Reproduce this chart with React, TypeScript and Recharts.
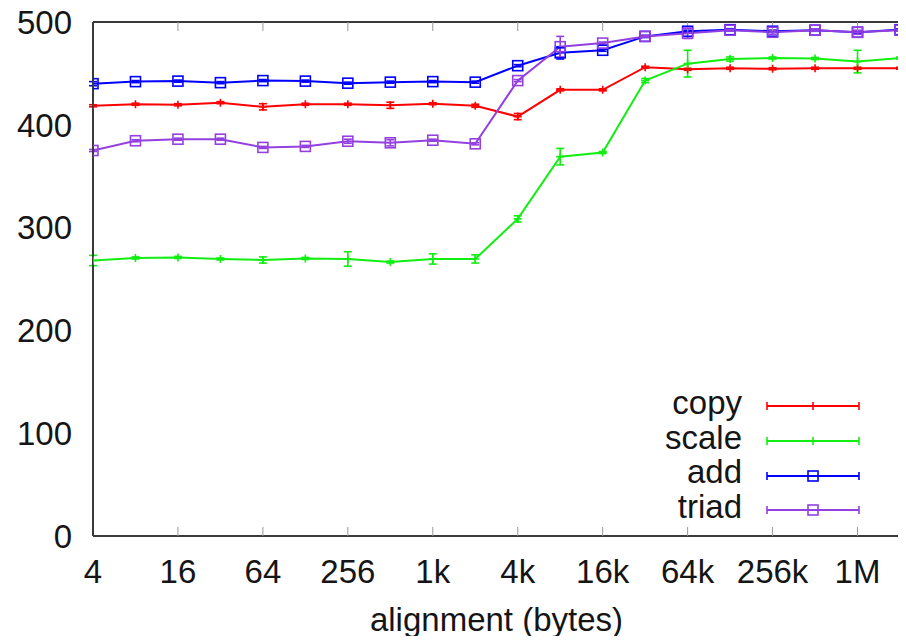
import React from 'react';
import { LineChart, Line, XAxis, YAxis, ErrorBar } from 'recharts';

// alignment in bytes, one point per power of two
const alignments = [4, 8, 16, 32, 64, 128, 256, 512, 1024, 2048, 4096, 8192, 16384, 32768, 65536, 131072, 262144, 524288, 1048576, 2097152];
const xTicks = [4, 16, 64, 256, 1024, 4096, 16384, 65536, 262144, 1048576];
const xTickLabels = ['4', '16', '64', '256', '1k', '4k', '16k', '64k', '256k', '1M'];
const yTicks = [0, 100, 200, 300, 400, 500];

const copyValues = [418.5, 420, 419.5, 421.5, 417.5, 420, 420, 419, 420.5, 418.5, 408, 434, 434, 456, 454, 455, 454.5, 455, 455, 455];
const copyErrors = [1, 1, 1, 1, 3, 1, 1, 3, 1, 1.5, 3, 1, 1, 1, 1, 1, 1, 1, 1, 1];
const scaleValues = [268, 270.5, 271, 269.5, 268.5, 270, 269.5, 266.5, 269.5, 269.5, 308.5, 369, 373, 443, 459.5, 464, 465, 464.5, 461.5, 465];
const scaleErrors = [5, 1, 1, 1, 3, 1, 7, 1, 5, 4, 3, 8, 1, 2, 13, 2, 1, 1, 11, 1];
const addValues = [440, 442, 442.5, 441, 443, 442.5, 440.5, 441.5, 442, 441.5, 457.5, 470, 472.5, 486, 491, 492.5, 491, 492, 490, 492.5];
const addErrors = [2, 1, 1, 1, 1, 1, 1, 1, 1, 1, 1, 6, 1, 1, 1, 1, 1, 1, 1, 1];
const triadValues = [375, 384.5, 386, 386, 378, 379, 384, 382.5, 385, 381.5, 443, 476, 479.5, 486, 489, 492, 490, 492, 490, 492];
const triadErrors = [1, 1, 1, 1, 1, 1, 2, 3, 1, 1, 1, 10, 1, 1, 5, 1, 2, 1, 2, 1];

const seriesNames = ['copy', 'scale', 'add', 'triad'];
const seriesColors = ['#ff0000', '#11ee11', '#0000ff', '#9440e0'];
const seriesMarkers = ['plus', 'plus', 'square', 'square'];

const data = alignments.map((bytes, i) => ({
  bytes,
  copy: copyValues[i],
  copyErr: copyErrors[i],
  scale: scaleValues[i],
  scaleErr: scaleErrors[i],
  add: addValues[i],
  addErr: addErrors[i],
  triad: triadValues[i],
  triadErr: triadErrors[i],
}));

const FONT = '"Liberation Sans", Arial, Helvetica, sans-serif';
const TEXT = '#151515';
const FONT_SIZE = 33;
const xDomain = [alignments[0], alignments[alignments.length - 1]];

const makeDot = (kind: string, color: string) => (props: any) => {
  const { cx, cy, index } = props;
  if (cx == null || cy == null) return <g key={index} />;
  if (kind === 'square') {
    return <rect key={index} x={cx - 5} y={cy - 5} width={10} height={10} fill="none" stroke={color} strokeWidth={1.6} />;
  }
  return <path key={index} d={`M${cx - 4},${cy}H${cx + 4}M${cx},${cy - 4}V${cy + 4}`} stroke={color} strokeWidth={1.6} fill="none" />;
};

const formatX = (v: number) => {
  const i = xTicks.indexOf(v);
  return i >= 0 ? xTickLabels[i] : '';
};

const LegendSample: React.FC<{ color: string; marker: string }> = ({ color, marker }) => (
  <svg width={96} height={20} style={{ display: 'block' }}>
    <line x1={2} y1={10} x2={94} y2={10} stroke={color} strokeWidth={2} />
    <line x1={2} y1={6} x2={2} y2={14} stroke={color} strokeWidth={1.6} />
    <line x1={94} y1={6} x2={94} y2={14} stroke={color} strokeWidth={1.6} />
    {marker === 'square' ? (
      <rect x={43} y={5} width={10} height={10} fill="none" stroke={color} strokeWidth={1.6} />
    ) : (
      <line x1={48} y1={6} x2={48} y2={14} stroke={color} strokeWidth={1.6} />
    )}
  </svg>
);

const frameAxis = { stroke: '#3a3a3a', strokeWidth: 2 };
const innerTick = { stroke: '#999', strokeWidth: 1 };

export default function App() {
  return (
    <div style={{ position: 'relative', width: 906, height: 644, margin: -8, fontFamily: FONT }}>
      <LineChart width={906} height={644} data={data} margin={{ top: 22, right: 6, bottom: 8, left: 13 }}>
        <XAxis
          xAxisId="x"
          dataKey="bytes"
          type="number"
          scale="log"
          domain={xDomain}
          allowDataOverflow
          ticks={xTicks}
          interval={0}
          tickFormatter={formatX}
          axisLine={false}
          tickLine={false}
          tickSize={8}
          tickMargin={16}
          height={100}
          tick={{ fontSize: FONT_SIZE, fill: TEXT, fontFamily: FONT }}
          label={{ value: 'alignment (bytes)', position: 'insideBottom', offset: 5, fontSize: FONT_SIZE, fill: TEXT, fontFamily: FONT }}
        />
        <XAxis xAxisId="xb" dataKey="bytes" type="number" scale="log" domain={xDomain} allowDataOverflow ticks={xTicks} interval={0}
          tickFormatter={() => ''} orientation="bottom" mirror axisLine={frameAxis} tickLine={innerTick} tickSize={9} />
        <XAxis xAxisId="xt" dataKey="bytes" type="number" scale="log" domain={xDomain} allowDataOverflow ticks={xTicks} interval={0}
          tickFormatter={() => ''} orientation="top" mirror axisLine={frameAxis} tickLine={innerTick} tickSize={9} />
        <YAxis
          yAxisId="y"
          type="number"
          domain={[0, 500]}
          ticks={yTicks}
          interval={0}
          width={80}
          axisLine={false}
          tickLine={false}
          tickSize={8}
          tickMargin={13}
          tick={{ fontSize: FONT_SIZE, fill: TEXT, fontFamily: FONT }}
        />
        <YAxis yAxisId="yl" type="number" domain={[0, 500]} ticks={yTicks} interval={0} tickFormatter={() => ''}
          orientation="left" mirror axisLine={frameAxis} tickLine={innerTick} tickSize={9} />
        <YAxis yAxisId="yr" type="number" domain={[0, 500]} ticks={yTicks} interval={0} tickFormatter={() => ''}
          orientation="right" mirror axisLine={frameAxis} tickLine={innerTick} tickSize={9} />

        {seriesNames.map((name, i) => (
          <Line
            key={name}
            xAxisId="x"
            yAxisId="y"
            type="linear"
            dataKey={name}
            stroke={seriesColors[i]}
            strokeWidth={2}
            dot={makeDot(seriesMarkers[i], seriesColors[i])}
            activeDot={false}
            isAnimationActive={false}
          >
            <ErrorBar dataKey={`${name}Err`} direction="y" width={4} stroke={seriesColors[i]} strokeWidth={1.6} isAnimationActive={false} />
          </Line>
        ))}
      </LineChart>

      <div style={{ position: 'absolute', left: 632, top: 389 }}>
        {seriesNames.map((name, i) => (
          <div key={name} style={{ display: 'flex', alignItems: 'center', height: 34.7 }}>
            <span style={{ width: 110, textAlign: 'right', fontSize: FONT_SIZE, lineHeight: '34.7px', color: TEXT, position: 'relative', top: -3 }}>
              {name}
            </span>
            <span style={{ width: 23 }} />
            <LegendSample color={seriesColors[i]} marker={seriesMarkers[i]} />
          </div>
        ))}
      </div>
    </div>
  );
}
